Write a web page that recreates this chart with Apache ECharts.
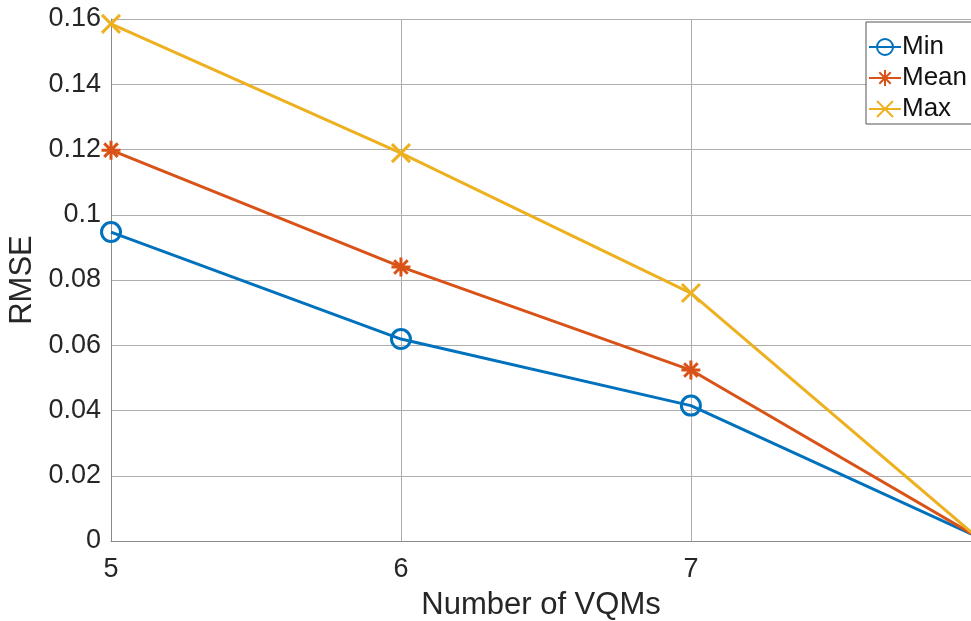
<!DOCTYPE html>
<html>
<head>
<meta charset="utf-8">
<script src="https://cdn.jsdelivr.net/npm/echarts@6/dist/echarts.min.js"></script>
<style>
  html, body { margin: 0; padding: 0; background: #fff; }
  #chart { width: 971px; height: 621px; }
</style>
</head>
<body>
<div id="chart"></div>
<script>
// Number of VQMs on the x axis
const vqmCounts = [5, 6, 7, 8];
// RMSE per configuration
const minRmse  = [0.0947, 0.0619, 0.0415, 0.0008];
const meanRmse = [0.1198, 0.0840, 0.0524, 0.0006];
const maxRmse  = [0.1585, 0.1189, 0.0760, 0.0002];
const yTicks = { min: 0, max: 0.16, step: 0.02 };
// visible x window stops just short of 8; the last segment is clipped at the edge
const xView = { min: 5, max: 7.966, step: 1 };

const FONT = '"Liberation Sans", Arial, Helvetica, sans-serif';
const ring = 'path://M10,0A10,10 0 1 1 -10,0A10,10 0 1 1 10,0Z';
const asterisk = 'path://M0,-10L0,10M-10,0L10,0M-7.1,-7.1L7.1,7.1M-7.1,7.1L7.1,-7.1';
const cross = 'path://M-10,-10L10,10M-10,10L10,-10';

function pairs(ys) { return vqmCounts.map((x, i) => [x, ys[i]]); }

function lineSeries(name, ys, color, symbol, size) {
  return {
    name: name,
    type: 'line',
    data: pairs(ys),
    clip: true,
    symbol: symbol,
    symbolSize: size,
    symbolKeepAspect: true,
    showAllSymbol: true,
    lineStyle: { color: color, width: 3 },
    itemStyle: {
      color: 'rgba(0,0,0,0)',
      borderColor: color,
      borderWidth: 3
    },
    emphasis: { disabled: true },
    animation: false
  };
}

const chart = echarts.init(document.getElementById('chart'), null, { renderer: 'canvas' });
chart.setOption({
  backgroundColor: '#fff',
  animation: false,
  grid: { left: 111, top: 19, right: 0, bottom: 80, containLabel: false, outerBoundsMode: 'none' },
  legend: {
    orient: 'vertical',
    left: 866,
    top: 22,
    backgroundColor: '#fff',
    borderColor: '#555',
    borderWidth: 1,
    borderRadius: 0,
    padding: [12, 30, 2, 2],
    itemWidth: 32,
    itemHeight: 20,
    itemGap: 5,
    textStyle: { fontFamily: FONT, fontSize: 26, lineHeight: 26, color: '#111', padding: [0, 0, 0, -4] },
    data: ['Min', 'Mean', 'Max']
  },
  xAxis: {
    type: 'value',
    min: xView.min, max: xView.max, interval: xView.step,
    name: 'Number of VQMs',
    nameLocation: 'middle',
    nameGap: 49,
    nameTextStyle: { fontFamily: FONT, fontSize: 31, color: '#262626' },
    axisLine: { show: true, lineStyle: { color: '#8a8a8a', width: 1 } },
    axisTick: { show: false },
    axisLabel: { fontFamily: FONT, fontSize: 27, color: '#262626', margin: 15, showMaxLabel: false },
    splitLine: { show: true, showMaxLine: false, lineStyle: { color: '#adadad', width: 1 } }
  },
  yAxis: {
    type: 'value',
    min: yTicks.min, max: yTicks.max, interval: yTicks.step,
    name: 'RMSE',
    nameLocation: 'middle',
    nameGap: 56,
    nameTextStyle: { fontFamily: FONT, fontSize: 31, color: '#262626' },
    axisLine: { show: true, lineStyle: { color: '#8a8a8a', width: 1 } },
    axisTick: { show: false },
    axisLabel: { fontFamily: FONT, fontSize: 27, color: '#262626', margin: 10 },
    splitLine: { show: true, lineStyle: { color: '#adadad', width: 1 } }
  },
  series: [
    lineSeries('Min', minRmse, '#0072BD', ring, 19),
    lineSeries('Mean', meanRmse, '#D95319', asterisk, 19),
    lineSeries('Max', maxRmse, '#EDB120', cross, 18)
  ]
});
</script>
</body>
</html>
